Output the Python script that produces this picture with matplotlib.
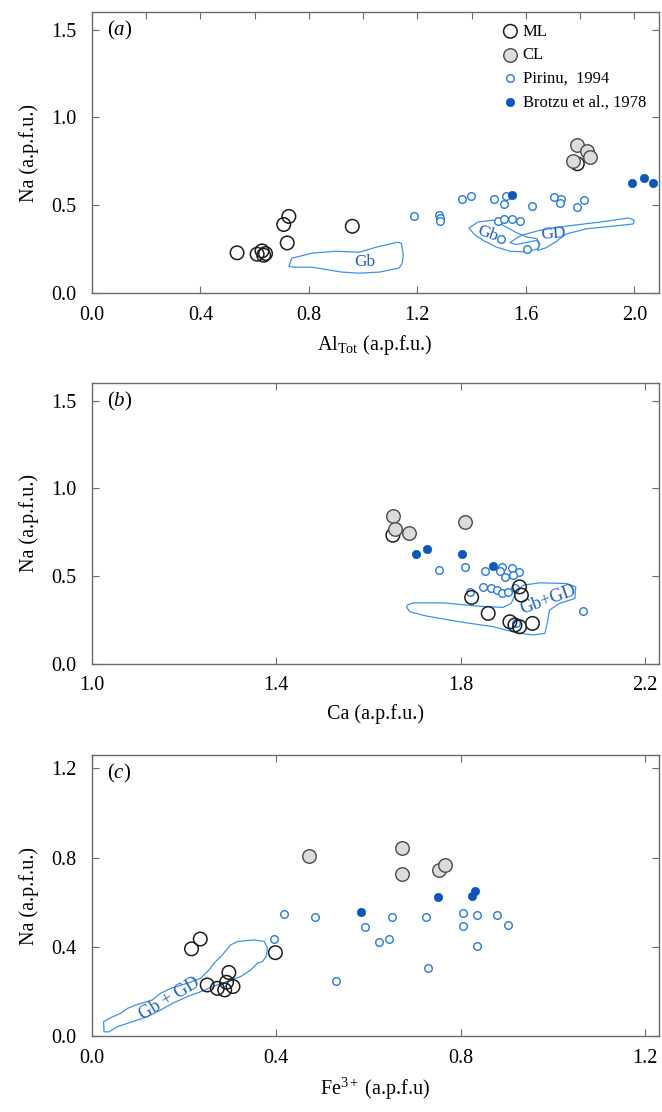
import numpy as np
import matplotlib.pyplot as plt
from matplotlib.patches import Polygon
from matplotlib.ticker import MultipleLocator, FixedLocator

plt.rcParams['font.family'] = ['Liberation Serif', 'DejaVu Serif']
plt.rcParams['mathtext.fontset'] = 'custom'
plt.rcParams['mathtext.rm'] = 'Liberation Serif'
plt.rcParams['mathtext.it'] = 'Liberation Serif:italic'
plt.rcParams['mathtext.default'] = 'regular'

# ---- panel (a): Na vs Al_Tot ----
ml_a_x = [0.535, 0.609, 0.627, 0.640, 0.633, 0.707, 0.726, 0.720, 0.960, 1.790]
ml_a_y = [0.229, 0.221, 0.240, 0.225, 0.215, 0.390, 0.436, 0.285, 0.380, 0.736]
cl_a_x = [1.790, 1.826, 1.837, 1.775]
cl_a_y = [0.844, 0.810, 0.776, 0.753]
pir_a_x = [1.186, 1.281, 1.284, 1.285, 1.364, 1.396, 1.483, 1.528, 1.520, 1.499, 1.521,
           1.549, 1.579, 1.510, 1.606, 1.623, 1.704, 1.730, 1.726, 1.788, 1.815]
pir_a_y = [0.438, 0.446, 0.429, 0.410, 0.536, 0.550, 0.536, 0.551, 0.504, 0.412, 0.423,
           0.423, 0.408, 0.306, 0.249, 0.497, 0.546, 0.533, 0.514, 0.489, 0.527]
bro_a_x = [1.549, 1.991, 2.036, 2.068]
bro_a_y = [0.559, 0.627, 0.657, 0.629]

# field outlines (a)
gb1_a = [(0.726, 0.153), (0.737, 0.198), (0.811, 0.227), (0.900, 0.238), (0.985, 0.232),
         (1.048, 0.261), (1.126, 0.289), (1.141, 0.283), (1.148, 0.215), (1.144, 0.170),
         (1.133, 0.142), (1.059, 0.119), (0.985, 0.113), (0.922, 0.119), (0.811, 0.147),
         (0.744, 0.147)]
gb2_a = [(1.390, 0.370), (1.423, 0.404), (1.479, 0.415), (1.528, 0.376), (1.565, 0.344),
         (1.602, 0.319), (1.640, 0.310), (1.652, 0.281), (1.646, 0.253), (1.602, 0.234),
         (1.541, 0.238), (1.491, 0.262), (1.448, 0.295), (1.411, 0.332)]
gd_a = [(1.541, 0.287), (1.584, 0.329), (1.652, 0.357), (1.751, 0.381), (1.874, 0.404),
        (1.979, 0.427), (2.000, 0.414), (1.996, 0.393), (1.936, 0.383), (1.825, 0.366),
        (1.748, 0.336), (1.714, 0.295), (1.674, 0.257), (1.642, 0.242), (1.649, 0.276),
        (1.640, 0.300), (1.565, 0.276)]

# ---- panel (b): Na vs Ca ----
ml_b_x = [1.653, 1.824, 1.860, 1.907, 1.918, 1.928, 1.956, 1.928, 1.932]
ml_b_y = [0.733, 0.379, 0.288, 0.240, 0.222, 0.212, 0.231, 0.439, 0.392]
cl_b_x = [1.653, 1.657, 1.688, 1.810]
cl_b_y = [0.843, 0.771, 0.748, 0.807]
pir_b_x = [1.753, 1.810, 1.854, 1.889, 1.885, 1.897, 1.911, 1.927, 1.914, 1.820, 1.848,
           1.867, 1.879, 1.889, 1.904, 1.921, 2.065, 1.918]
pir_b_y = [0.534, 0.553, 0.532, 0.553, 0.530, 0.496, 0.545, 0.521, 0.506, 0.411, 0.438,
           0.430, 0.419, 0.405, 0.409, 0.231, 0.303, 0.432]
bro_b_x = [1.704, 1.728, 1.804, 1.871]
bro_b_y = [0.625, 0.652, 0.627, 0.557]
ca_ticks = [1.0, 1.4, 1.8, 2.2]

gbgd_b = [(1.684, 0.335), (1.697, 0.348), (1.762, 0.348), (1.834, 0.330), (1.892, 0.322),
          (1.910, 0.345), (1.921, 0.411), (1.936, 0.449), (1.972, 0.462), (2.030, 0.458),
          (2.050, 0.439), (2.048, 0.373), (2.015, 0.345), (1.993, 0.307), (1.988, 0.231),
          (1.983, 0.174), (1.957, 0.165), (1.921, 0.178), (1.871, 0.212), (1.798, 0.240),
          (1.726, 0.273), (1.690, 0.297), (1.683, 0.322)]

# ---- panel (c): Na vs Fe3+ ----
ml_c_x = [0.216, 0.235, 0.250, 0.272, 0.288, 0.292, 0.297, 0.306, 0.398]
ml_c_y = [0.391, 0.435, 0.229, 0.214, 0.207, 0.241, 0.285, 0.222, 0.374]
cl_c_x = [0.472, 0.672, 0.672, 0.753, 0.767]
cl_c_y = [0.806, 0.843, 0.728, 0.746, 0.768]
pir_c_x = [0.417, 0.485, 0.396, 0.530, 0.593, 0.623, 0.644, 0.651, 0.725, 0.730, 0.805,
           0.806, 0.835, 0.836, 0.879, 0.903]
pir_c_y = [0.547, 0.533, 0.436, 0.245, 0.487, 0.420, 0.437, 0.532, 0.535, 0.303, 0.551,
           0.493, 0.542, 0.404, 0.544, 0.500]
bro_c_x = [0.584, 0.751, 0.825, 0.832]
bro_c_y = [0.554, 0.623, 0.626, 0.652]

gbgd_c = [(0.026, 0.027), (0.025, 0.064), (0.037, 0.079), (0.062, 0.102), (0.077, 0.124),
          (0.095, 0.139), (0.131, 0.162), (0.149, 0.192), (0.171, 0.214), (0.207, 0.237),
          (0.236, 0.259), (0.254, 0.297), (0.265, 0.327), (0.283, 0.364), (0.301, 0.409),
          (0.316, 0.424), (0.352, 0.431), (0.374, 0.424), (0.381, 0.394), (0.378, 0.356),
          (0.370, 0.334), (0.359, 0.327), (0.345, 0.297), (0.323, 0.267), (0.302, 0.252),
          (0.272, 0.229), (0.236, 0.199), (0.207, 0.177), (0.175, 0.147), (0.149, 0.117),
          (0.120, 0.087), (0.077, 0.057), (0.055, 0.042), (0.037, 0.019), (0.026, 0.019)]

ML_EDGE = '#1e1e1e'
CL_FILL = '#dcdcdc'
CL_EDGE = '#4a4a4a'
PIR_COL = '#2a7ad8'
BRO_COL = '#0b58bd'
FIELD_COL = '#3d92ea'
FIELD_TXT = '#1a62c2'
SPINE_COL = '#6a6a6a'

fig = plt.figure(figsize=(6.62, 11.12), dpi=100)
ax_a = fig.add_axes([0.139, 0.7365, 0.856, 0.2527])
ax_b = fig.add_axes([0.139, 0.4029, 0.856, 0.2527])
ax_c = fig.add_axes([0.139, 0.0683, 0.856, 0.2527])


def draw_points(ax, ml, cl, pir, bro):
    ax.scatter(pir[0], pir[1], s=30, facecolors='white', edgecolors=PIR_COL,
               linewidths=1.0, zorder=3, label='Pirinu,  1994')
    ax.scatter(bro[0], bro[1], s=36, color=BRO_COL, edgecolors=BRO_COL,
               linewidths=0.5, zorder=4, label='Brotzu et al., 1978')
    ax.scatter(ml[0], ml[1], s=95, facecolors='none', edgecolors=ML_EDGE,
               linewidths=1.1, zorder=5, label='ML')
    ax.scatter(cl[0], cl[1], s=95, facecolors=CL_FILL, edgecolors=CL_EDGE,
               linewidths=1.0, zorder=6, label='CL')


def add_field(ax, pts):
    ax.add_patch(Polygon(pts, closed=True, fill=False, edgecolor=FIELD_COL,
                         linewidth=0.9, zorder=2))


def style(ax, xlim, ylim, xstep, ystep):
    ax.set_xlim(*xlim)
    ax.set_ylim(*ylim)
    ax.xaxis.set_major_locator(MultipleLocator(xstep))
    ax.yaxis.set_major_locator(MultipleLocator(ystep))
    ax.xaxis.set_major_formatter(plt.FormatStrFormatter('%.1f'))
    ax.yaxis.set_major_formatter(plt.FormatStrFormatter('%.1f'))
    ax.tick_params(direction='in', length=5, width=0.8, color=SPINE_COL,
                   top=True, right=True, labelsize=14.5, pad=9)
    ax.tick_params(axis='y', pad=11)
    for sp in ax.spines.values():
        sp.set_color(SPINE_COL)
        sp.set_linewidth(1.0)
    ax.set_ylabel('Na (a.p.f.u.)', fontsize=14.5, labelpad=9)


# (a)
add_field(ax_a, gb1_a)
add_field(ax_a, gb2_a)
add_field(ax_a, gd_a)
draw_points(ax_a, (ml_a_x, ml_a_y), (cl_a_x, cl_a_y), (pir_a_x, pir_a_y), (bro_a_x, bro_a_y))
style(ax_a, (0, 2.09), (0, 1.6), 0.4, 0.5)
ax_a.xaxis.set_minor_locator(MultipleLocator(0.2))
ax_a.tick_params(which='minor', direction='in', length=5, width=0.8, color=SPINE_COL,
                 top=True, bottom=False)
ax_a.set_xlabel(r'Al$_{Tot}$ (a.p.f.u.)', fontsize=14.5, labelpad=6)
ax_a.text(1.007, 0.178, 'Gb', color=FIELD_TXT, fontsize=12.5, ha='center', va='center')
ax_a.text(1.46, 0.335, 'Gb', color=FIELD_TXT, fontsize=12.5, ha='center', va='center',
          rotation=-20)
ax_a.text(1.70, 0.335, 'GD', color=FIELD_TXT, fontsize=12.5, ha='center', va='center',
          rotation=5)
ax_a.text(0.026, 0.935, r'($\mathit{a}$)', transform=ax_a.transAxes, fontsize=15,
          ha='left', va='center')
handles, labels = ax_a.get_legend_handles_labels()
order = [2, 3, 0, 1]
ax_a.legend([handles[i] for i in order], [labels[i] for i in order],
            loc='upper left', bbox_to_anchor=(0.70, 1.0), frameon=False,
            fontsize=12, handletextpad=0.15, labelspacing=0.45, borderpad=0.2,
            handlelength=1.2)

# (b)
add_field(ax_b, gbgd_b)
draw_points(ax_b, (ml_b_x, ml_b_y), (cl_b_x, cl_b_y), (pir_b_x, pir_b_y), (bro_b_x, bro_b_y))
style(ax_b, (1.0, 2.23), (0, 1.6), 0.4, 0.5)
ax_b.xaxis.set_major_locator(FixedLocator(ca_ticks))
ax_b.set_xlabel('Ca (a.p.f.u.)', fontsize=14.5, labelpad=6)
ax_b.text(1.99, 0.365, 'Gb+GD', color=FIELD_TXT, fontsize=13, ha='center', va='center',
          rotation=20)
ax_b.text(0.026, 0.935, r'($\mathit{b}$)', transform=ax_b.transAxes, fontsize=15,
          ha='left', va='center')

# (c)
add_field(ax_c, gbgd_c)
draw_points(ax_c, (ml_c_x, ml_c_y), (cl_c_x, cl_c_y), (pir_c_x, pir_c_y), (bro_c_x, bro_c_y))
style(ax_c, (0, 1.23), (0, 1.26), 0.4, 0.4)
ax_c.set_xlabel(r'Fe$^{3+}$ (a.p.f.u)', fontsize=14.5, labelpad=6)
ax_c.text(0.168, 0.168, 'Gb + GD', color=FIELD_TXT, fontsize=13, ha='center', va='center',
          rotation=31)
ax_c.text(0.026, 0.935, r'($\mathit{c}$)', transform=ax_c.transAxes, fontsize=15,
          ha='left', va='center')

fig.savefig('out.png', dpi=100)
